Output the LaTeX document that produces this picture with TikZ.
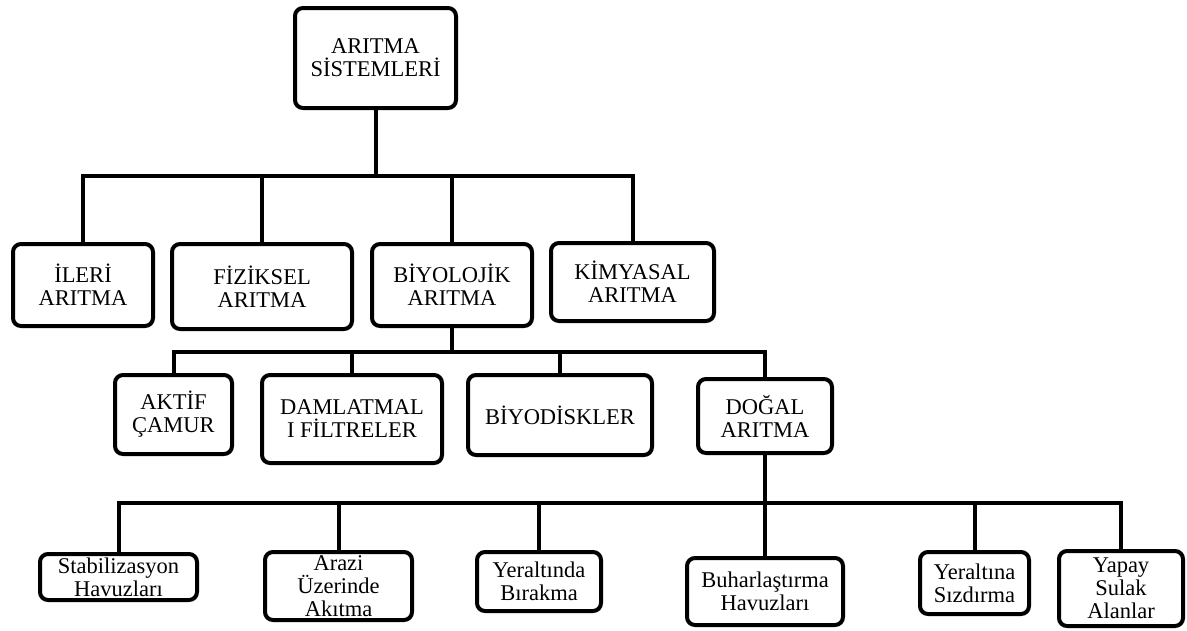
\documentclass[tikz,border=0pt]{standalone}
\usepackage{fontspec}
\setmainfont{Liberation Serif}
\usepackage{tikz}

\begin{document}
\begin{tikzpicture}[x=1pt,y=-1pt,
	kutu/.style={draw=black,line width=4pt,rounded corners=8pt,inner sep=0pt,align=center,font=\fontsize{22.5}{23}\selectfont},
	hat/.style={draw=black,line width=4pt}]
	
	\useasboundingbox (0,0) rectangle (1187,630);
	
	\node[kutu,minimum width=161pt,minimum height=100pt] (sistem) at (375.5,58) {ARITMA\\SİSTEMLERİ};
	
	\node[kutu,minimum width=140pt,minimum height=82pt] (ileri) at (83,285) {İLERİ\\ARITMA};
	\node[kutu,minimum width=180pt,minimum height=85pt] (fiziksel) at (262,286.5) {FİZİKSEL\\ARITMA};
	\node[kutu,minimum width=160pt,minimum height=82pt] (biyolojik) at (452,285) {BİYOLOJİK\\ARITMA};
	\node[kutu,minimum width=163pt,minimum height=78pt] (kimyasal) at (632.5,282) {KİMYASAL\\ARITMA};
	
	\node[kutu,minimum width=117pt,minimum height=79pt] (aktif) at (173.5,414.5) {AKTİF\\ÇAMUR};
	\node[kutu,minimum width=180pt,minimum height=88pt] (damlatmal) at (352,419) {DAMLATMAL\\I FİLTRELER};
	\node[kutu,minimum width=184pt,minimum height=80pt] (biyodisk) at (560,415) {BİYODİSKLER};
	\node[kutu,minimum width=134pt,minimum height=74pt] (dogal) at (765,416) {DOĞAL\\ARITMA};
	
	\node[kutu,minimum width=157pt,minimum height=46pt] (stab) at (118.5,577) {Stabilizasyon\\Havuzları};
	\node[kutu,minimum width=147pt,minimum height=68pt] (arazi) at (338.5,586) {Arazi\\Üzerinde\\Akıtma};
	\node[kutu,minimum width=124pt,minimum height=59pt] (yeraltinda) at (539,581.5) {Yeraltında\\Bırakma};
	\node[kutu,minimum width=156pt,minimum height=67pt] (buhar) at (765,591.5) {Buharlaştırma\\Havuzları};
	\node[kutu,minimum width=109pt,minimum height=62pt] (yeraltina) at (974.5,583) {Yeraltına\\Sızdırma};
	\node[kutu,minimum width=124pt,minimum height=75pt] (yapay) at (1121,588.5) {Yapay\\Sulak\\Alanlar};
	
	\coordinate (k1) at (sistem.south |- 0,176);
	\coordinate (k2) at (biyolojik.south |- 0,352);
	\coordinate (k3) at (dogal.south |- 0,503);
	
	\path[hat] (sistem.south) -- (k1);
	\foreach \n in {ileri,fiziksel,biyolojik,kimyasal}
		\path[hat] (k1) -| (\n.north);
	
	\path[hat] (biyolojik.south) -- (k2);
	\foreach \n in {aktif,damlatmal,biyodisk,dogal}
		\path[hat] (k2) -| (\n.north);
	
	\path[hat] (dogal.south) -- (k3);
	\foreach \n in {stab,arazi,yeraltinda,buhar,yeraltina,yapay}
		\path[hat] (k3) -| (\n.north);

\end{tikzpicture}
\end{document}
